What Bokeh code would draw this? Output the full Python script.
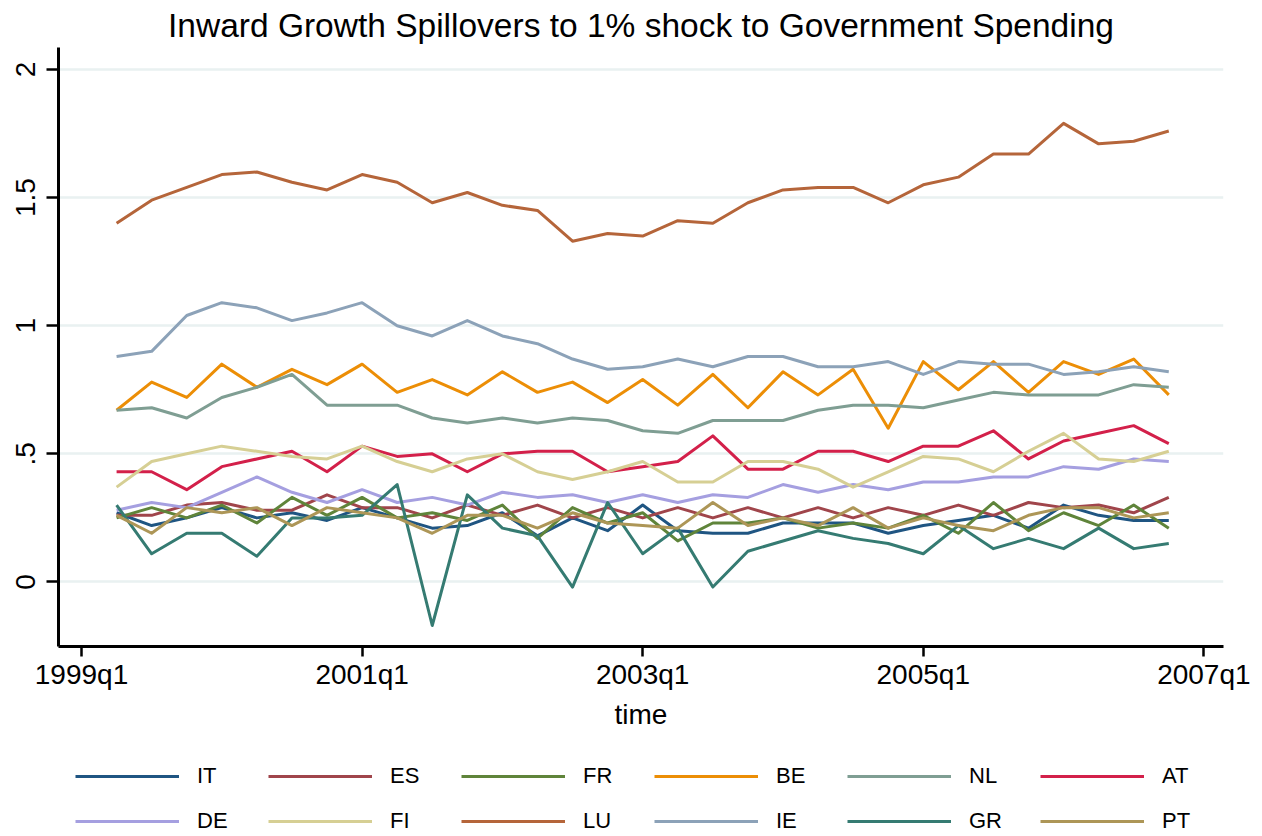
from bokeh.plotting import figure
from bokeh.layouts import column
from bokeh.models import Range1d, FixedTicker, Legend, LegendItem
from bokeh.embed import file_html
from bokeh.resources import INLINE

# ---- data -------------------------------------------------------------
quarters = ["1999q2", "1999q3", "1999q4",
            "2000q1", "2000q2", "2000q3", "2000q4",
            "2001q1", "2001q2", "2001q3", "2001q4",
            "2002q1", "2002q2", "2002q3", "2002q4",
            "2003q1", "2003q2", "2003q3", "2003q4",
            "2004q1", "2004q2", "2004q3", "2004q4",
            "2005q1", "2005q2", "2005q3", "2005q4",
            "2006q1", "2006q2", "2006q3", "2006q4"]

IT = [0.27, 0.22, 0.25, 0.29, 0.25, 0.27, 0.24, 0.29, 0.25, 0.21, 0.22, 0.27, 0.18, 0.25, 0.20, 0.30,
      0.20, 0.19, 0.19, 0.23, 0.23, 0.23, 0.19, 0.22, 0.24, 0.26, 0.21, 0.30, 0.26, 0.24, 0.24]
ES = [0.26, 0.26, 0.30, 0.31, 0.28, 0.28, 0.34, 0.29, 0.29, 0.25, 0.30, 0.26, 0.30, 0.25, 0.29, 0.25,
      0.29, 0.25, 0.29, 0.25, 0.29, 0.25, 0.29, 0.26, 0.30, 0.26, 0.31, 0.29, 0.30, 0.27, 0.33]
FR = [0.25, 0.29, 0.25, 0.30, 0.23, 0.33, 0.26, 0.33, 0.25, 0.27, 0.24, 0.30, 0.17, 0.29, 0.23, 0.27,
      0.16, 0.23, 0.23, 0.25, 0.21, 0.23, 0.21, 0.26, 0.19, 0.31, 0.20, 0.27, 0.22, 0.30, 0.21]
BE = [0.67, 0.78, 0.72, 0.85, 0.76, 0.83, 0.77, 0.85, 0.74, 0.79, 0.73, 0.82, 0.74, 0.78, 0.70, 0.79,
      0.69, 0.81, 0.68, 0.82, 0.73, 0.83, 0.60, 0.86, 0.75, 0.86, 0.74, 0.86, 0.81, 0.87, 0.73]
NL = [0.67, 0.68, 0.64, 0.72, 0.76, 0.81, 0.69, 0.69, 0.69, 0.64, 0.62, 0.64, 0.62, 0.64, 0.63, 0.59,
      0.58, 0.63, 0.63, 0.63, 0.67, 0.69, 0.69, 0.68, 0.71, 0.74, 0.73, 0.73, 0.73, 0.77, 0.76]
AT = [0.43, 0.43, 0.36, 0.45, 0.48, 0.51, 0.43, 0.53, 0.49, 0.50, 0.43, 0.50, 0.51, 0.51, 0.43, 0.45,
      0.47, 0.57, 0.44, 0.44, 0.51, 0.51, 0.47, 0.53, 0.53, 0.59, 0.48, 0.55, 0.58, 0.61, 0.54]
DE = [0.28, 0.31, 0.29, 0.35, 0.41, 0.35, 0.31, 0.36, 0.31, 0.33, 0.30, 0.35, 0.33, 0.34, 0.31, 0.34,
      0.31, 0.34, 0.33, 0.38, 0.35, 0.38, 0.36, 0.39, 0.39, 0.41, 0.41, 0.45, 0.44, 0.48, 0.47]
FI = [0.37, 0.47, 0.50, 0.53, 0.51, 0.49, 0.48, 0.53, 0.47, 0.43, 0.48, 0.50, 0.43, 0.40, 0.43, 0.47,
      0.39, 0.39, 0.47, 0.47, 0.44, 0.37, 0.43, 0.49, 0.48, 0.43, 0.51, 0.58, 0.48, 0.47, 0.51]
LU = [1.40, 1.49, 1.54, 1.59, 1.60, 1.56, 1.53, 1.59, 1.56, 1.48, 1.52, 1.47, 1.45, 1.33, 1.36, 1.35,
      1.41, 1.40, 1.48, 1.53, 1.54, 1.54, 1.48, 1.55, 1.58, 1.67, 1.67, 1.79, 1.71, 1.72, 1.76]
IE = [0.88, 0.90, 1.04, 1.09, 1.07, 1.02, 1.05, 1.09, 1.00, 0.96, 1.02, 0.96, 0.93, 0.87, 0.83, 0.84,
      0.87, 0.84, 0.88, 0.88, 0.84, 0.84, 0.86, 0.81, 0.86, 0.85, 0.85, 0.81, 0.82, 0.84, 0.82]
GR = [0.30, 0.11, 0.19, 0.19, 0.10, 0.25, 0.25, 0.26, 0.38, -0.17, 0.34, 0.21, 0.18, -0.02, 0.31, 0.11,
      0.21, -0.02, 0.12, 0.16, 0.20, 0.17, 0.15, 0.11, 0.22, 0.13, 0.17, 0.13, 0.21, 0.13, 0.15]
PT = [0.26, 0.19, 0.29, 0.27, 0.29, 0.22, 0.29, 0.27, 0.25, 0.19, 0.26, 0.26, 0.21, 0.27, 0.23, 0.22,
      0.21, 0.31, 0.22, 0.25, 0.22, 0.29, 0.21, 0.25, 0.22, 0.20, 0.26, 0.29, 0.29, 0.25, 0.27]

series_names = ["IT", "ES", "FR", "BE", "NL", "AT", "DE", "FI", "LU", "IE", "GR", "PT"]
series_values = [IT, ES, FR, BE, NL, AT, DE, FI, LU, IE, GR, PT]
series_colors = ["#1f5582", "#a0454b", "#5f843a", "#ec8e06", "#7f9e93", "#d3204a",
                 "#a59fe0", "#d6cf94", "#b5653a", "#8ca2b8", "#357b72", "#ad9657"]

x_tick_labels = ["1999q1", "2001q1", "2003q1", "2005q1", "2007q1"]
y_tick_values = [0, 0.5, 1, 1.5, 2]
y_tick_labels = ["0", ".5", "1", "1.5", "2"]


def qnum(s):
    y, q = s.split("q")
    return (int(y) - 1999) * 4 + int(q) - 1


xs = [qnum(q) for q in quarters]
x_ticks = [qnum(q) for q in x_tick_labels]

FONT = "Liberation Sans"

# ---- main chart -------------------------------------------------------
p = figure(width=1262, height=736, output_backend="svg", toolbar_location=None,
           x_range=Range1d(-0.656, 32.56), y_range=Range1d(-0.252, 2.086),
           min_border_left=58, min_border_right=39, min_border_top=47, min_border_bottom=90)
p.outline_line_color = None
p.background_fill_color = "white"
p.border_fill_color = "white"

p.title.text = "Inward Growth Spillovers to 1% shock to Government Spending"
p.title.align = "center"
p.title.text_font = FONT
p.title.text_font_size = "33.5px"
p.title.text_font_style = "normal"
p.title.text_color = "black"
p.title.standoff = 8

p.xaxis.ticker = FixedTicker(ticks=x_ticks)
p.xaxis.major_label_overrides = {t: l for t, l in zip(x_ticks, x_tick_labels)}
p.yaxis.ticker = FixedTicker(ticks=y_tick_values)
p.yaxis.major_label_overrides = {t: l for t, l in zip(y_tick_values, y_tick_labels)}
p.yaxis.major_label_orientation = "vertical"
p.xaxis.axis_label = "time"
for ax in (p.xaxis[0], p.yaxis[0]):
    ax.axis_line_width = 3
    ax.axis_line_color = "black"
    ax.major_tick_line_width = 2.5
    ax.major_tick_line_color = "black"
    ax.major_tick_in = 0
    ax.minor_tick_line_color = None
    ax.major_label_text_font = FONT
    ax.major_label_text_font_size = "28px"
    ax.major_label_text_color = "black"
    ax.axis_label_text_font = FONT
    ax.axis_label_text_font_size = "28px"
    ax.axis_label_text_font_style = "normal"
    ax.axis_label_text_color = "black"
p.xaxis.major_tick_out = 10
p.xaxis.major_label_standoff = 2
p.xaxis.axis_label_standoff = 6
p.yaxis.major_tick_out = 12
p.yaxis.major_label_standoff = 11

p.xgrid.grid_line_color = None
p.ygrid.ticker = FixedTicker(ticks=y_tick_values)
p.ygrid.grid_line_color = "#e9f1f1"
p.ygrid.grid_line_width = 2.5

for vals, col in zip(series_values, series_colors):
    p.line(xs, vals, line_color=col, line_width=3, line_join="round")

# ---- legend strip (same series; its value range keeps lines out of view) ----
lg = figure(width=1262, height=100, output_backend="svg", toolbar_location=None,
            x_range=Range1d(-0.656, 32.56), y_range=Range1d(10, 11),
            x_axis_location=None, y_axis_location=None,
            min_border_left=58, min_border_right=39, min_border_top=0, min_border_bottom=0)
lg.outline_line_color = None
lg.xgrid.grid_line_color = None
lg.ygrid.grid_line_color = None
lg.background_fill_color = "white"
lg.border_fill_color = "white"

items = []
for name, vals, col in zip(series_names, series_values, series_colors):
    r = lg.line(xs, vals, line_color=col, line_width=3)
    items.append(LegendItem(label=name, renderers=[r]))


def make_legend(its, loc):
    return Legend(items=its, orientation="horizontal", location=loc,
                  spacing=26, glyph_width=104, glyph_height=20,
                  label_width=45, label_standoff=18, padding=0, margin=0,
                  border_line_color=None, background_fill_alpha=0,
                  label_text_font=FONT, label_text_font_size="22px",
                  label_text_color="black")


lg.add_layout(make_legend(items[:6], (17, 47)), "center")
lg.add_layout(make_legend(items[6:], (17, 2)), "center")

layout = column(p, lg, spacing=0)
open("out.html", "w").write(file_html(layout, INLINE))
